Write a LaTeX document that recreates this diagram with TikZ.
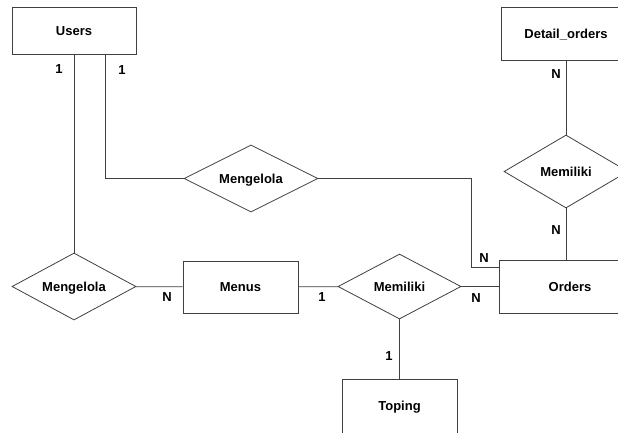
\documentclass[tikz,border=0pt]{standalone}
\usepackage{fontspec}
\setmainfont{Liberation Sans}
\usetikzlibrary{shapes.geometric, positioning}

\begin{document}
\begin{tikzpicture}[x=1pt, y=-1pt, line width=0.8pt, draw=black!75,
    entity/.style={draw, rectangle, inner sep=0pt, text height=9.4pt, text depth=0pt, font=\bfseries\fontsize{13}{15}\selectfont},
    relation/.style={draw, diamond, aspect=2, inner sep=0pt, text height=9.4pt, text depth=0pt, font=\bfseries\fontsize{13}{15}\selectfont},
    card/.style={font=\bfseries\fontsize{13}{15}\selectfont}]
    % Canvas
    \useasboundingbox[fill=white] (0,0) rectangle (618,432);
    \clip (0,0) rectangle (618,432);
    % Entities
    \node[entity, minimum width=124pt, minimum height=47pt] (users) at (74,30.5) {Users};
    \node[entity, minimum width=130pt, minimum height=53pt] (detail) at (566,33.5) {Detail\_orders};
    \node[entity, minimum width=142pt, minimum height=53pt] (orders) at (570,286.5) {Orders};
    \node[entity, minimum width=115pt, minimum height=52pt] (menus) at (240.5,287) {Menus};
    \node[entity, minimum width=115pt, minimum height=54pt] (toping) at (399.5,406) {Toping};
    % Relations
    \node[relation, minimum width=124pt, minimum height=67pt] (kelolaA) at (74,286.5) {Mengelola};
    \node[relation, minimum width=134pt, minimum height=67pt] (kelolaB) at (251,178.5) {Mengelola};
    \node[relation, minimum width=123pt, minimum height=65pt] (milikA) at (399.5,286.5) {Memiliki};
    \node[relation, minimum width=124pt, minimum height=73pt] (milikB) at (566,171.5) {Memiliki};
    % Connectors
    \coordinate (bend) at (471,267);
    \draw (users) -- (kelolaA);
    \draw ([xshift=31pt]users.south) |- (kelolaB.west);
    \draw (kelolaB.east) -| (bend) -- (bend -| orders.west);
    \draw (detail) -- (milikB);
    \draw (milikB.south) -- (milikB.south |- orders.north);
    \draw (kelolaA) -- (menus);
    \draw (menus) -- (milikA);
    \draw (milikA) -- (orders);
    \draw (milikA) -- (toping);
    % Cardinalities
    \node[card] (c1) at (59,69) {1};
    \node[card] (c2) at (122,70) {1};
    \node[card] (c3) at (484,258) {N};
    \node[card] (c4) at (556,74) {N};
    \node[card] (c5) at (556,230) {N};
    \node[card] (c6) at (167,297) {N};
    \node[card] (c7) at (322,297) {1};
    \node[card] (c8) at (476,298) {N};
    \node[card] (c9) at (389,356) {1};
\end{tikzpicture}
\end{document}
